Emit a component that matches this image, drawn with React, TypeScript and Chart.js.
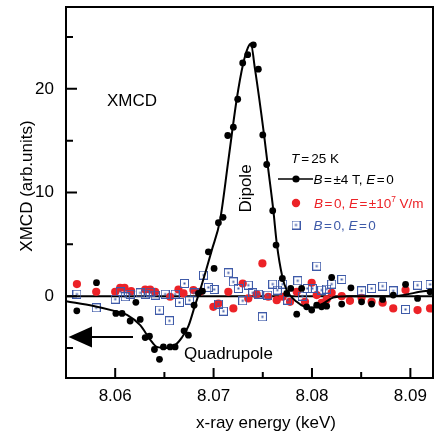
import React, { useEffect, useRef } from "react";
import { Chart, registerables } from "chart.js";

Chart.register(...registerables);

// ---- data (x-ray energy keV, XMCD arb. units) ----
const blackX = [8.0561, 8.0581, 8.06007, 8.0607, 8.06152, 8.0621, 8.06254, 8.06305, 8.06348, 8.06399, 8.0645, 8.0649, 8.06558, 8.06609, 8.067, 8.06744, 8.06802, 8.06846, 8.06887, 8.06947, 8.07005, 8.07049, 8.07096, 8.07144, 8.07201, 8.07245, 8.07296, 8.07347, 8.07404, 8.07455, 8.075, 8.0754, 8.07601, 8.07635, 8.07699, 8.07743, 8.07784, 8.07845, 8.07895, 8.07946, 8.07997, 8.08048, 8.08098, 8.08149, 8.082, 8.08302, 8.08396, 8.08504, 8.08606, 8.08718, 8.08826, 8.08951, 8.09073, 8.092];
const blackY = [-1.42, 1.3, -1.67, -1.67, -2.4, -0.6, -2.25, -4.0, -3.87, -5.15, -6.1, -4.9, -4.9, -4.9, -3.35, -3.77, -0.87, 0.26, 0.48, 4.28, 2.67, 7.08, 7.6, 15.5, 16.3, 19.0, 22.5, 23.3, 24.25, 21.9, 15.56, 12.7, 8.24, 4.93, 1.7, 0.26, 0.74, -1.74, 0.74, -1.03, -1.35, -0.87, -1.03, -0.97, 1.8, -0.77, 0.8, -0.55, -0.77, -0.32, 0.1, 1.13, -0.22, 0.42];

const redX = [8.05611, 8.05807, 8.06, 8.06051, 8.06095, 8.06162, 8.06305, 8.06355, 8.06406, 8.06558, 8.06643, 8.06694, 8.06795, 8.06863, 8.06998, 8.07049, 8.0715, 8.07201, 8.07296, 8.07353, 8.07438, 8.07496, 8.07556, 8.07642, 8.07702, 8.07777, 8.07845, 8.07929, 8.07997, 8.08048, 8.08098, 8.08149, 8.082, 8.08302, 8.08386, 8.08504, 8.08606, 8.08718, 8.08826, 8.08951, 8.09073, 8.092];
const redY = [1.16, 0.42, 0.42, 0.8, 0.8, 0.48, 0.64, 0.64, 0.42, -0.06, 0.64, 0.26, 0.58, 0.42, -1.03, -0.71, 0.42, -1.19, 1.22, -0.22, 0.16, 3.16, -0.06, -0.39, -0.06, -0.55, 0.42, -0.55, 1.29, 0.1, -0.64, -0.32, 0.32, 0.0, -0.45, -0.16, -0.55, -0.64, -1.19, 0.58, -1.35, -1.19];

const blueX = [8.05611, 8.05807, 8.06, 8.06051, 8.06102, 8.06152, 8.06254, 8.06305, 8.06355, 8.06406, 8.0645, 8.06508, 8.06551, 8.06609, 8.06653, 8.06704, 8.06754, 8.06802, 8.06897, 8.06947, 8.07005, 8.07049, 8.071, 8.0715, 8.07201, 8.07252, 8.07296, 8.07353, 8.07398, 8.07455, 8.07496, 8.0755, 8.07601, 8.07648, 8.07702, 8.07753, 8.07855, 8.07902, 8.07952, 8.08003, 8.08048, 8.08098, 8.08149, 8.082, 8.08302, 8.08504, 8.08606, 8.08718, 8.08826, 8.08951, 8.09073, 8.092];
const blueY = [0.19, -1.13, -0.29, 0.42, -0.06, 0.19, 0.32, 0.19, 0.39, 0.1, -1.35, 0.19, -2.38, 0.19, -0.61, 1.22, -0.39, 0.32, 2.03, 0.84, 0.64, -0.77, -1.45, 2.25, 1.38, 0.74, -0.45, 1.06, 0.32, 0.19, -2.0, 0.1, 1.16, 0.58, 1.16, -0.39, 1.48, 0.0, 0.74, 0.74, 2.9, 0.58, 0.68, 1.16, 1.61, 0.51, 0.74, 0.97, 0.51, -1.29, 1.06, 1.13];

const fitX = [8.05503, 8.0578, 8.06, 8.0612, 8.06254, 8.06355, 8.06423, 8.06525, 8.06609, 8.06677, 8.06744, 8.06812, 8.06863, 8.06914, 8.06982, 8.07066, 8.0715, 8.07235, 8.073, 8.0735, 8.07378, 8.07421, 8.07513, 8.0755, 8.07607, 8.07642, 8.07699, 8.07743, 8.07845, 8.07929, 8.08013, 8.08115, 8.08216, 8.08386, 8.08826, 8.08961, 8.09096, 8.09225];
const fitY = [-0.5, -0.95, -1.45, -1.8, -2.8, -4.19, -4.9, -5.0, -4.73, -4.0, -2.9, -0.87, 0.58, 2.19, 4.44, 7.34, 13.1, 19.0, 22.4, 24.0, 24.35, 21.9, 15.56, 12.66, 8.3, 5.1, 1.86, 0.58, -0.55, -1.03, -1.1, -0.71, -0.13, 0.0, 0.0, 0.16, 0.42, 0.58];

const xTicks = [8.06, 8.07, 8.08, 8.09];
const xMinorTicks = [8.065, 8.075, 8.085];
const yTicks = [0, 10, 20];
const yMinorTicks = [-5, 5, 15, 25];

const RED = "#ec2227";
const BLUE = "#3e5aa8";
const FONT = "'Liberation Sans', Arial, sans-serif";

const pts = (xs: number[], ys: number[]) => xs.map((x, i) => ({ x, y: ys[i] }));

let squareImg: HTMLCanvasElement | null = null;
function getSquare(): HTMLCanvasElement {
  if (squareImg) return squareImg;
  const c = document.createElement("canvas");
  c.width = 9;
  c.height = 9;
  const g = c.getContext("2d")!;
  g.strokeStyle = BLUE;
  g.lineWidth = 1;
  g.strokeRect(0.5, 0.5, 8, 8);
  g.fillStyle = BLUE;
  g.fillRect(3.5, 3.5, 2, 2);
  squareImg = c;
  return c;
}

type Seg = { t?: string; i?: boolean; sup?: boolean; g?: number };

function drawRich(ctx: CanvasRenderingContext2D, x: number, y: number, segs: Seg[], size: number, color: string) {
  ctx.fillStyle = color;
  ctx.textAlign = "left";
  ctx.textBaseline = "alphabetic";
  let cx = x;
  for (const s of segs) {
    if (s.g) { cx += s.g; continue; }
    const fs = s.sup ? size * 0.62 : size;
    ctx.font = `${s.i ? "italic " : ""}${fs}px ${FONT}`;
    ctx.fillText(s.t!, cx, s.sup ? y - size * 0.42 : y);
    cx += ctx.measureText(s.t!).width;
  }
}

const decorPlugin = {
  id: "decor",
  beforeDatasetsDraw(chart: any) {
    const { ctx, chartArea: a, scales } = chart;
    const y0 = scales.y.getPixelForValue(0);
    ctx.save();
    ctx.strokeStyle = "#000";
    ctx.lineWidth = 2;
    ctx.beginPath();
    ctx.moveTo(a.left, y0);
    ctx.lineTo(a.right, y0);
    ctx.stroke();
    ctx.restore();
  },
  afterDraw(chart: any) {
    const { ctx, chartArea: a, scales } = chart;
    const sx = scales.x, sy = scales.y;
    ctx.save();
    ctx.strokeStyle = "#000";
    ctx.lineWidth = 2;
    ctx.strokeRect(a.left, a.top, a.right - a.left, a.bottom - a.top);
    // inward ticks
    ctx.beginPath();
    for (const v of yTicks) { const p = sy.getPixelForValue(v); ctx.moveTo(a.left, p); ctx.lineTo(a.left + 11, p); }
    for (const v of yMinorTicks) { const p = sy.getPixelForValue(v); ctx.moveTo(a.left, p); ctx.lineTo(a.left + 7, p); }
    for (const v of xTicks) { const p = sx.getPixelForValue(v); ctx.moveTo(p, a.bottom); ctx.lineTo(p, a.bottom - 10); }
    for (const v of xMinorTicks) { const p = sx.getPixelForValue(v); ctx.moveTo(p, a.bottom); ctx.lineTo(p, a.bottom - 6); }
    ctx.stroke();

    // axis titles
    ctx.fillStyle = "#000";
    ctx.font = `17px ${FONT}`;
    ctx.textAlign = "center";
    ctx.textBaseline = "middle";
    ctx.fillText("x-ray energy (keV)", 266, 423);
    ctx.save();
    ctx.translate(27, 186);
    ctx.rotate(-Math.PI / 2);
    ctx.fillText("XMCD (arb.units)", 0, 0);
    ctx.restore();

    // annotations
    ctx.textBaseline = "alphabetic";
    ctx.textAlign = "left";
    ctx.fillText("XMCD", 107, 106);
    ctx.fillText("Quadrupole", 184, 359);
    ctx.save();
    ctx.translate(251, 188.5);
    ctx.rotate(-Math.PI / 2);
    ctx.textAlign = "center";
    ctx.fillText("Dipole", 0, 0);
    ctx.restore();

    // arrow
    ctx.beginPath();
    ctx.moveTo(68.5, 337);
    ctx.lineTo(92, 326.5);
    ctx.lineTo(92, 347.5);
    ctx.closePath();
    ctx.fill();
    ctx.beginPath();
    ctx.moveTo(90, 337);
    ctx.lineTo(133, 337);
    ctx.stroke();

    // legend
    const fs = 13.5;
    drawRich(ctx, 291, 163.3, [{ t: "T", i: true }, { g: 2 }, { t: "=" }, { g: 2 }, { t: "25 K" }], fs, "#000");
    ctx.strokeStyle = "#000";
    ctx.lineWidth = 1.5;
    ctx.beginPath();
    ctx.moveTo(278, 179);
    ctx.lineTo(313, 179);
    ctx.stroke();
    ctx.fillStyle = "#000";
    ctx.beginPath();
    ctx.arc(296, 179, 3.6, 0, Math.PI * 2);
    ctx.fill();
    drawRich(ctx, 313.5, 184.3, [{ t: "B", i: true }, { g: 1.5 }, { t: "=" }, { g: 1.5 }, { t: "±4 T, " }, { t: "E", i: true }, { g: 1.5 }, { t: "=" }, { g: 1.5 }, { t: "0" }], fs, "#000");
    ctx.fillStyle = RED;
    ctx.beginPath();
    ctx.arc(296, 203, 4.2, 0, Math.PI * 2);
    ctx.fill();
    drawRich(ctx, 314, 208, [{ t: "B", i: true }, { g: 1.5 }, { t: "=" }, { g: 1.5 }, { t: "0, " }, { t: "E", i: true }, { g: 1.5 }, { t: "=" }, { g: 1.5 }, { t: "±10" }, { t: "7", sup: true }, { t: " V/m" }], fs, RED);
    ctx.drawImage(getSquare(), 291.5, 220.5);
    drawRich(ctx, 313.5, 230, [{ t: "B", i: true }, { g: 1.5 }, { t: "=" }, { g: 1.5 }, { t: "0, " }, { t: "E", i: true }, { g: 1.5 }, { t: "=" }, { g: 1.5 }, { t: "0" }], fs, BLUE);
    ctx.restore();
  },
};

export default function App() {
  const ref = useRef<HTMLCanvasElement>(null);
  useEffect(() => {
    const square = getSquare();
    const chart: any = new Chart(ref.current!, {
      type: "scatter",
      data: {
        datasets: [
          { label: "B=0, E=±1e7 V/m", data: pts(redX, redY), pointStyle: "circle", pointRadius: 4.1, backgroundColor: RED, borderWidth: 0, order: 4 },
          { label: "B=0, E=0", data: pts(blueX, blueY), pointStyle: square as any, pointRadius: 4.5, order: 3 },
          { label: "fit", data: pts(fitX, fitY), showLine: true, borderColor: "#000", borderWidth: 2, pointRadius: 0, cubicInterpolationMode: "monotone", order: 2 },
          { label: "B=±4 T, E=0", data: pts(blackX, blackY), pointStyle: "circle", pointRadius: 3.4, backgroundColor: "#000", borderWidth: 0, order: 1 },
        ],
      },
      options: {
        animation: false,
        responsive: false,
        events: [],
        layout: { padding: { top: 7, right: 11, left: 0, bottom: 0 } },
        plugins: { legend: { display: false }, tooltip: { enabled: false } },
        scales: {
          x: {
            type: "linear",
            min: 8.055,
            max: 8.0923,
            grid: { display: false, drawTicks: false },
            border: { display: false },
            afterBuildTicks: (s: any) => { s.ticks = xTicks.map((v) => ({ value: v })); },
            afterFit: (s: any) => { s.height = 57; s.paddingLeft = 0; s.paddingRight = 0; },
            ticks: { padding: 8, color: "#000", font: { family: FONT, size: 17 }, callback: (v: any) => Number(v).toFixed(2), maxRotation: 0, autoSkip: false },
          },
          y: {
            type: "linear",
            min: -7.9,
            max: 27.9,
            grid: { display: false, drawTicks: false },
            border: { display: false },
            afterBuildTicks: (s: any) => { s.ticks = yTicks.map((v) => ({ value: v })); },
            afterFit: (s: any) => { s.width = 66; s.paddingTop = 0; s.paddingBottom = 0; },
            ticks: { padding: 12, color: "#000", font: { family: FONT, size: 17 }, callback: (v: any) => String(v) },
          },
        },
      },
      plugins: [decorPlugin],
    });
    return () => chart.destroy();
  }, []);
  return (
    <div style={{ position: "fixed", left: 0, top: 0, width: 444, height: 435, background: "#fff" }}>
      <canvas ref={ref} width={444} height={435} style={{ width: 444, height: 435, display: "block" }} />
    </div>
  );
}
